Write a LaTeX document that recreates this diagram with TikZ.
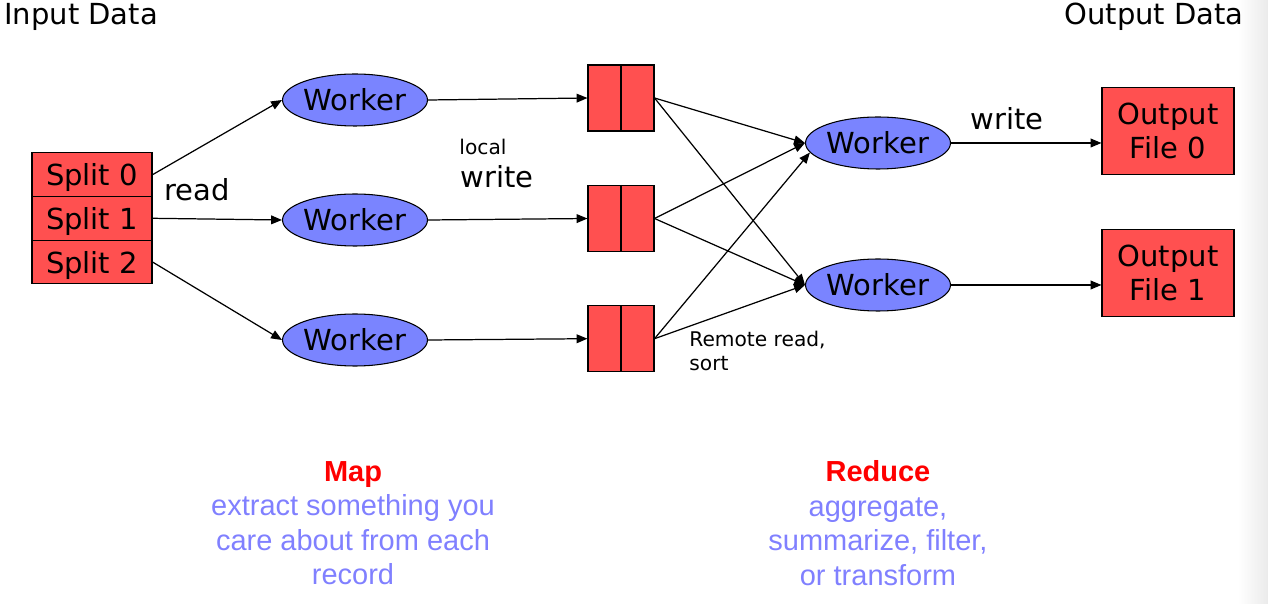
\documentclass[tikz,border=0pt]{standalone}
\usepackage{fontspec}
\setmainfont{DejaVu Sans}
\newfontfamily\notefont{Liberation Sans}
\usetikzlibrary{arrows.meta,shapes.geometric}
\definecolor{splitred}{RGB}{255,80,80}
\definecolor{workerblue}{RGB}{122,132,255}
\definecolor{noteblue}{RGB}{128,128,255}
\tikzset{
  box/.style={draw, fill=splitred, line width=0.6pt, inner sep=0pt, align=center, text depth=0pt},
  worker/.style={draw, ellipse, fill=workerblue, line width=0.6pt, minimum width=2.9cm, minimum height=1.04cm, inner sep=0pt},
  flow/.style={-{Triangle[length=6.2pt,width=5pt]}, line width=0.7pt},
  bigtext/.style={font=\fontsize{16.5}{19.3}\selectfont},
  smalltext/.style={font=\fontsize{11.5}{13.5}\selectfont},
  lbl/.style={inner sep=0pt},
  note/.style={inner sep=0pt, font=\notefont\fontsize{16.5}{19.6}\selectfont, text=noteblue, align=center}
}
\begin{document}
\begin{tikzpicture}[x=0.02cm, y=-0.02cm, bigtext]
  \useasboundingbox (0,0) rectangle (1268,604);
  \shade[left color=white, right color=black!8] (1238,0) rectangle (1268,604);
  % titles
  \node[lbl, anchor=west] (indata) at (4,17) {Input Data};
  \node[lbl, anchor=east] (outdata) at (1244,17) {Output Data};
  % input splits
  \foreach \i/\y in {0/174.7,1/218.3,2/262} {
    \node[box, minimum width=2.4cm, minimum height=0.875cm] (s\i) at (92,\y) {Split \i};
  }
  % map workers and buffers
  \foreach \i/\y in {0/100,1/220,2/340} {
    \node[worker] (mw\i) at (355,\y) {Worker};
  }
  \foreach \i/\y in {0/98,1/218.5,2/338.7} {
    \node[box, minimum width=1.32cm, minimum height=1.32cm] (b\i) at (621,\y) {};
    \draw[line width=0.6pt] (b\i.north) -- (b\i.south);
  }
  % reduce workers and output files
  \node[worker] (rw0) at (878,143) {Worker};
  \node[worker] (rw1) at (878,285) {Worker};
  \node[box, minimum width=2.64cm, minimum height=1.75cm] (out0) at (1168,131) {Output\\File 0};
  \node[box, minimum width=2.64cm, minimum height=1.75cm] (out1) at (1168,273) {Output\\File 1};
  % connectors
  \foreach \i in {0,1,2} {
    \draw[flow] (s\i.east) -- (mw\i.west);
    \draw[flow] (mw\i.east) -- (b\i.west);
  }
  \foreach \i in {0,1} {
    \draw[flow] (b\i.east) -- (rw0.west);
    \draw[flow] (b\i.east) -- (rw1.west);
  }
  \draw[flow] (b2.east) -- (rw0.188);
  \draw[flow] (b2.east) -- (rw1.west);
  \draw[flow] (rw0.east) -- (rw0.east -| out0.west);
  \draw[flow] (rw1.east) -- (rw1.east -| out1.west);
  % labels
  \node[lbl] (readlbl) at (197,190) {read};
  \node[lbl, smalltext] (locallbl) at (483,147) {local};
  \node[lbl] (writelbl) at (497,177) {write};
  \node[lbl] (outwrite) at (1007,119) {write};
  \node[lbl, smalltext, anchor=west, align=left] (remote) at (689,351) {Remote read,\\sort};
  % notes
  \node[note] (mapnote) at (353,523) {\textcolor{red}{\bfseries Map}\\extract something you\\care about from each\\record};
  \node[note] (rednote) at (878,523) {\textcolor{red}{\bfseries Reduce}\\aggregate,\\summarize, filter,\\or transform};
\end{tikzpicture}
\end{document}
